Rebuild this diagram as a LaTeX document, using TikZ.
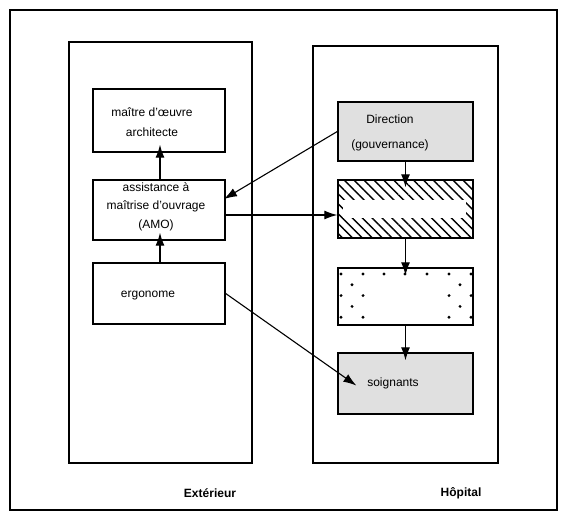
\documentclass[tikz,border=0pt]{standalone}
\usepackage{fontspec}
\setmainfont{Liberation Sans}
\usetikzlibrary{arrows.meta,patterns.meta,calc}
\begin{document}
\begin{tikzpicture}[x=1pt,y=-1pt,
  box/.style={draw,line width=1.4pt,inner sep=0pt,fill=white},
  graybox/.style={box,fill=black!12},
  txt/.style={align=center,inner sep=0pt},
  lbl/.style={font=\fontsize{12}{15}\selectfont\bfseries,inner sep=0pt},
  arr/.style={line width=1.1pt,-{Latex[length=13pt,width=9pt]}},
  deep/.style={shorten >=-8pt},
]
\useasboundingbox (0,0) rectangle (567,519);
% outer frame and panels
\node[box,minimum width=547,minimum height=500] (outer) at (283.5,260) {};
\node[box,minimum width=183,minimum height=421] (lp) at (160.5,252.5) {};
\node[box,minimum width=185,minimum height=417] (rp) at (405.5,254.5) {};
% left boxes
\node[box,minimum width=132,minimum height=63] (a) at (159,120.5) {};
\node[box,minimum width=132,minimum height=60] (b) at (159,210) {};
\node[box,minimum width=132,minimum height=61] (c) at (159,293.5) {};
% right boxes
\node[graybox,minimum width=135,minimum height=59] (d) at (405.5,131.5) {};
\node[box,minimum width=135,minimum height=58,
  pattern={Lines[angle=-45,distance=7pt,line width=1.4pt]}] (e) at (405.5,209) {};
\fill[white] (343,200) rectangle (466,218);
\node[box,minimum width=135,minimum height=57] (f) at (405.5,296.5) {};
\foreach \r in {0,2,4}{
  \foreach \cx in {341,363,384,405,427,449,471}{
    \fill (\cx,274+10.8*\r) circle (1.6);
  }
}
\foreach \r in {1,3}{
  \foreach \cx in {352,373,395,416,438,460}{
    \fill (\cx,274+10.8*\r) circle (1.6);
  }
}
\fill[white] (366,279) rectangle (446,322);
\node[graybox,minimum width=135,minimum height=61] (g) at (405.5,383.5) {};
% texts
\node[txt,font=\fontsize{12}{20}\selectfont] (ta) at (152,122) {maître d'œuvre\\architecte};
\node[txt,font=\fontsize{12}{18.5}\selectfont] (tb) at (156,206.5) {assistance à\\maîtrise d'ouvrage\\(AMO)};
\node[txt,font=\fontsize{12}{15}\selectfont] (tc) at (148,296) {ergonome};
\node[txt,font=\fontsize{12}{25}\selectfont] (td) at (390,132.5) {Direction\\(gouvernance)};
\node[txt,font=\fontsize{12}{15}\selectfont] (tg) at (393,383) {soignants};
\node[lbl] (lx1) at (210,493) {Extérieur};
\node[lbl] (lx2) at (461,493) {Hôpital};
% connectors
\coordinate (lx) at (160,0);
\draw[arr,deep] (c.north -| lx) -- (b.south -| lx);
\draw[arr,deep] (b.north -| lx) -- (a.south -| lx);
\draw[arr,deep] (d.south) -- (e.north);
\draw[arr,deep] (e.south) -- (f.north);
\draw[arr,deep] (f.south) -- (g.north);
\draw[arr,shorten >=-2pt] (d.west) -- ($(b.east)+(0,-12)$);
\draw[arr] ($(b.east)+(0,5)$) -- ($(e.west)+(0,6)$);
\draw[arr] (c.east) -- ($(g.west)+(19,2)$);
\end{tikzpicture}
\end{document}
